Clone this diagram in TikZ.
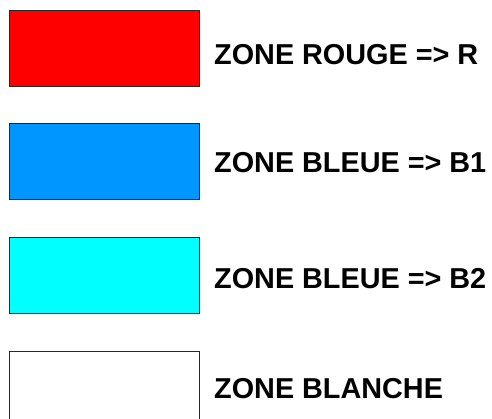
\documentclass[tikz,border=0pt]{standalone}
\usepackage{fontspec}
\setmainfont{Liberation Sans}
\definecolor{zred}{RGB}{255,0,0}
\definecolor{zblue}{RGB}{0,150,255}
\definecolor{zcyan}{RGB}{0,255,255}
\definecolor{zedge}{RGB}{40,40,40}
\begin{document}
\begin{tikzpicture}[x=1pt,y=1pt,
  zonebox/.style={draw=zedge,line width=1pt,minimum width=190pt,minimum height=76pt,inner sep=0pt,anchor=north west},
  zonelabel/.style={font=\bfseries\fontsize{28.8}{30}\selectfont,anchor=base west,inner sep=0pt}]
\useasboundingbox (0,0) rectangle (492,418);
\node[zonebox,fill=zred] (r) at (9,408) {};
\node[zonebox,fill=zblue] (b1) at (9,295) {};
\node[zonebox,fill=zcyan] (b2) at (9,181) {};
\node[zonebox,fill=white] (w) at (9,67) {};
\node[zonelabel] (tr) at (214,353) {ZONE ROUGE => R};
\node[zonelabel] (tb1) at (214,245) {ZONE BLEUE => B1};
\node[zonelabel] (tb2) at (214,130) {ZONE BLEUE => B2};
\node[zonelabel] (tw) at (214,20) {ZONE BLANCHE};
\end{tikzpicture}
\end{document}
